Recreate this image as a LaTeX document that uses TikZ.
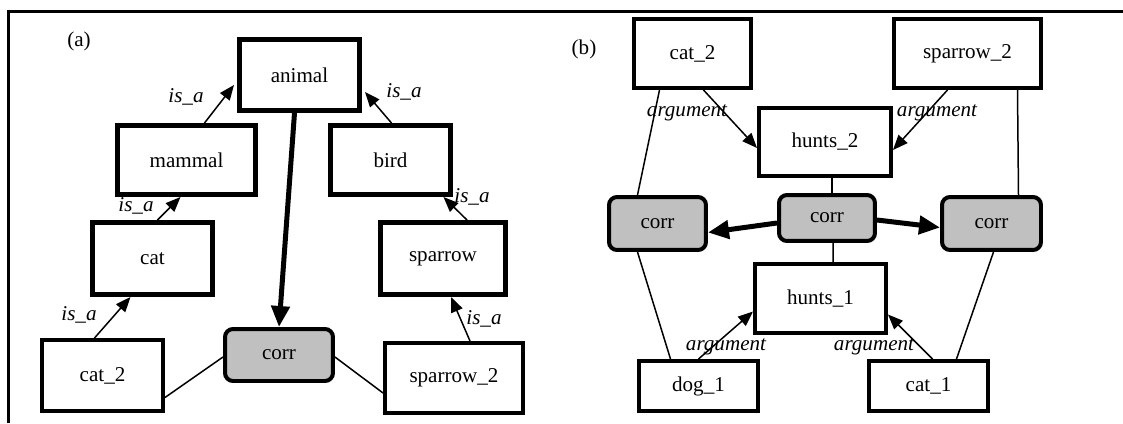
\documentclass[tikz,border=0pt]{standalone}
\usepackage{fontspec}
\setmainfont{Liberation Serif}
\usetikzlibrary{arrows.meta}
\definecolor{corrgray}{RGB}{192,192,192}

\begin{document}
\begin{tikzpicture}[x=0.02cm,y=-0.02cm,
  every node/.style={font=\fontsize{12}{14}\selectfont},
  concept/.style={draw,line width=0.1cm,inner sep=0pt},
  token/.style={draw,line width=0.08cm,inner sep=0pt},
  corrbox/.style={draw,line width=0.08cm,rounded corners=0.16cm,fill=corrgray,inner sep=0pt},
  rel/.style={font=\fontsize{12}{14}\selectfont\itshape,inner sep=0pt},
  isa/.style={line width=0.03cm,-{Triangle[length=0.3cm,width=0.24cm]}},
  link/.style={line width=0.03cm},
  mapto/.style={line width=0.1cm,-{Triangle[length=0.42cm,width=0.36cm]}}]
\useasboundingbox (0,0) rectangle (1123,423);
\draw[line width=0.07cm] (8.5,423) -- (8.5,11.5) -- (1123,11.5);

\node (taga) at (79,41) {(a)};
\node (tagb) at (584,49) {(b)};

\node[concept,minimum width=2.4cm,minimum height=1.42cm] (animal) at (299.5,75) {animal};
\node[concept,minimum width=2.76cm,minimum height=1.38cm] (mammal) at (186.5,160) {mammal};
\node[concept,minimum width=2.4cm,minimum height=1.38cm] (bird) at (390.5,160) {bird};
\node[concept,minimum width=2.4cm,minimum height=1.44cm] (cat) at (152.5,258.5) {cat};
\node[concept,minimum width=2.5cm,minimum height=1.44cm] (sparrow) at (443,258.5) {sparrow};
\node[token,minimum width=2.42cm,minimum height=1.42cm] (cat2a) at (102.5,375.5) {cat\_2};
\node[corrbox,minimum width=2.16cm,minimum height=1.04cm] (corra) at (279,355) {corr};
\node[token,minimum width=2.76cm,minimum height=1.4cm] (sparrow2a) at (454,378) {sparrow\_2};

\node[rel] (isa1) at (186,97) {is\_a};
\node[rel] (isa2) at (404,92) {is\_a};
\node[rel] (isa3) at (136,206) {is\_a};
\node[rel] (isa4) at (472,197) {is\_a};
\node[rel] (isa5) at (79,315) {is\_a};
\node[rel] (isa6) at (484,319) {is\_a};

\draw[isa] ([shift={(18,0)}]mammal.north) -- ([shift={(-3,10)}]animal.west);
\draw[isa] ([shift={(1,0)}]bird.north) -- ([shift={(3,17)}]animal.east);
\draw[isa] ([shift={(5,0)}]cat.north) -- ([shift={(-6,0)}]mammal.south);
\draw[isa] ([shift={(24,0)}]sparrow.north) -- ([shift={(53,0)}]bird.south);
\draw[isa] ([shift={(-8,0)}]cat2a.north) -- ([shift={(-22,0)}]cat.south);
\draw[isa] ([shift={(16,0)}]sparrow2a.north) -- ([shift={(8,0)}]sparrow.south);
\draw[mapto] ([shift={(-5,0)}]animal.south) -- (corra.north);
\draw[link] ([shift={(0,2)}]corra.west) -- ([shift={(0,22)}]cat2a.east);
\draw[link] ([shift={(0,2)}]corra.east) -- ([shift={(0,15)}]sparrow2a.west);

\node[token,minimum width=2.34cm,minimum height=1.38cm] (cat2b) at (692.5,53.5) {cat\_2};
\node[token,minimum width=2.94cm,minimum height=1.38cm] (sparrow2b) at (967.5,53.5) {sparrow\_2};
\node[token,minimum width=2.64cm,minimum height=1.36cm] (hunts2) at (825,142) {hunts\_2};
\node[corrbox,minimum width=1.94cm,minimum height=1.06cm] (corrl) at (657.5,223.5) {corr};
\node[corrbox,minimum width=1.92cm,minimum height=0.92cm] (corrm) at (827,218) {corr};
\node[corrbox,minimum width=1.98cm,minimum height=1.06cm] (corrr) at (991.5,223.5) {corr};
\node[token,minimum width=2.62cm,minimum height=1.38cm] (hunts1) at (820.5,298.5) {hunts\_1};
\node[token,minimum width=2.38cm,minimum height=1cm] (dog1) at (698.5,386) {dog\_1};
\node[token,minimum width=2.38cm,minimum height=1cm] (cat1) at (928.5,386) {cat\_1};

\node[rel] (arg1) at (687,113) {argument};
\node[rel] (arg2) at (937,113) {argument};
\node[rel] (arg3) at (726,347) {argument};
\node[rel] (arg4) at (874,347) {argument};

\draw[isa] ([shift={(11,0)}]cat2b.south) -- ([shift={(0,6)}]hunts2.west);
\draw[isa] ([shift={(-20,0)}]sparrow2b.south) -- ([shift={(0,8)}]hunts2.east);
\draw[link] ([shift={(-33,0)}]cat2b.south) -- ([shift={(-20,0)}]corrl.north);
\draw[link] ([shift={(50,0)}]sparrow2b.south) -- ([shift={(27,0)}]corrr.north);
\draw[link] ([shift={(7,0)}]hunts2.south) -- ([shift={(5,0)}]corrm.north);
\draw[link] ([shift={(6,0)}]corrm.south) -- ([shift={(12.5,0)}]hunts1.north);
\draw[mapto] ([shift={(0,5)}]corrm.west) -- ([shift={(0,9)}]corrl.east);
\draw[mapto] ([shift={(0,2)}]corrm.east) -- ([shift={(0,4)}]corrr.west);
\draw[isa] (dog1.north) -- ([shift={(0,13)}]hunts1.west);
\draw[isa] ([shift={(4,0)}]cat1.north) -- ([shift={(0,16)}]hunts1.east);
\draw[link] ([shift={(-20,0)}]corrl.south) -- ([shift={(-28,0)}]dog1.north);
\draw[link] ([shift={(2,0)}]corrr.south) -- ([shift={(28,0)}]cat1.north);
\end{tikzpicture}
\end{document}
